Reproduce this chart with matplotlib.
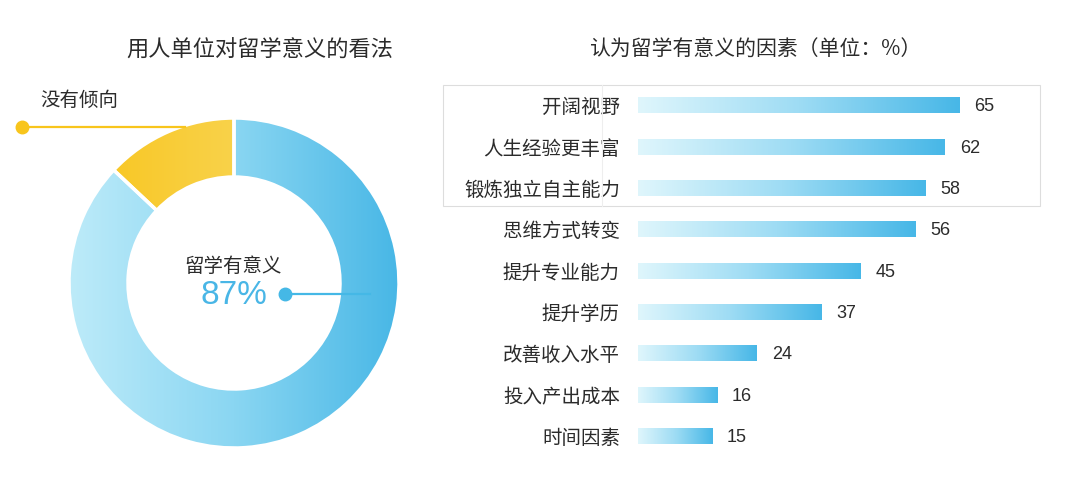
import numpy as np
import matplotlib.pyplot as plt
from matplotlib.colors import LinearSegmentedColormap
from matplotlib.patches import Rectangle

plt.rcParams['font.family'] = ['Noto Sans CJK SC', 'DejaVu Sans']

# ---------------- data ----------------
pie_labels = ['留学有意义', '没有倾向']
pie_share = [87, 13]

factors = ['开阔视野', '人生经验更丰富', '锻炼独立自主能力', '思维方式转变', '提升专业能力',
           '提升学历', '改善收入水平', '投入产出成本', '时间因素']
factor_vals = [65, 62, 58, 56, 45, 37, 24, 16, 15]

title_left = '用人单位对留学意义的看法'
title_right = '认为留学有意义的因素（单位：%）'

text_col = '#2b2b2b'
blue_dark = '#45b8e6'
yellow = '#f8c51c'
num_font = ['Liberation Sans', 'DejaVu Sans']

fig = plt.figure(figsize=(10.8, 4.88), dpi=100)
fig.patch.set_facecolor('white')

# ---------------- donut (axes in pixel units) ----------------
ax = fig.add_axes([0, 0, 440 / 1080, 1])
cx, cy, R, w = 234, 205, 165, 59
wedges, _ = ax.pie(pie_share, radius=R, center=(cx, cy), startangle=90, counterclock=False,
                   wedgeprops=dict(width=w, edgecolor='white', linewidth=2.5))

grad = np.linspace(0, 1, 256).reshape(1, -1)
cmaps = [LinearSegmentedColormap.from_list('b', ['#bdebf9', '#8ad6f2', '#48b7e6']),
         LinearSegmentedColormap.from_list('y', ['#f8c41a', '#f9d24a', '#fae07e'])]
for wdg, cm in zip(wedges, cmaps):
    im = ax.imshow(grad, extent=[cx - R, cx + R, cy - R, cy + R], cmap=cm,
                   aspect='auto', zorder=1, interpolation='bicubic')
    im.set_clip_path(wdg)
    wdg.set_facecolor('none')
    wdg.set_zorder(2)

ax.set_xlim(0, 440)
ax.set_ylim(0, 488)
ax.set_aspect('auto')
ax.axis('off')

# callouts
ax.plot([22, 185], [361, 361], color=yellow, lw=1.6, zorder=3)
ax.plot(22, 361, 'o', color=yellow, ms=9, zorder=3)
ax.text(40, 388, pie_labels[1], fontsize=14, color=text_col, ha='left', va='center', weight='medium')

ax.plot([285, 370], [194, 194], color=blue_dark, lw=1.6, zorder=3)
ax.plot(285, 194, 'o', color=blue_dark, ms=9, zorder=3)
ax.text(233, 222, pie_labels[0], fontsize=14, color=text_col, ha='center', va='center', weight='medium')
ax.text(234, 193, '%d%%' % pie_share[0], fontsize=24, color='#49b6e6', ha='center', va='center',
        family=num_font)

fig.text(260 / 1080, 1 - 50 / 488, title_left, fontsize=16, color=text_col, ha='center', va='center',
         weight='medium')
fig.text(755 / 1080, 1 - 50 / 488, title_right, fontsize=15, color=text_col, ha='center', va='center',
         weight='medium')

# ---------------- bars ----------------
px_per_unit = 4.95
bx = fig.add_axes([638 / 1080, 31.4 / 488, 442 / 1080, 372 / 488])
pos = np.arange(len(factors))
bars = bx.barh(pos, factor_vals, height=0.39, color='none')
bcm = LinearSegmentedColormap.from_list('bar', ['#dff6fc', '#9edcf4', '#47b7e7'])
for r in bars:
    x0, y0 = r.get_x(), r.get_y()
    im = bx.imshow(grad, extent=[x0, x0 + r.get_width(), y0 + r.get_height(), y0], cmap=bcm,
                   aspect='auto', zorder=1, interpolation='bicubic')
    im.set_clip_path(r)
bx.set_xlim(0, 442 / px_per_unit)
bx.set_ylim(len(factors) - 0.5, -0.5)

for p, v in zip(pos, factor_vals):
    bx.text(v + 3.0, p + 0.04, str(v), fontsize=13, color=text_col, va='center', ha='left', family=num_font)

bx.set_yticks(pos)
bx.set_yticklabels(factors, fontsize=14, color=text_col, weight='medium')
bx.tick_params(axis='y', length=0, pad=13)
bx.set_xticks([])
for s in bx.spines.values():
    s.set_visible(False)
bx.patch.set_alpha(0)

# highlight box around top three rows
fig.add_artist(Rectangle((443 / 1080, 1 - 206 / 488), 597 / 1080, 121 / 488, transform=fig.transFigure,
                         fill=False, edgecolor='#dddddd', lw=0.8))
fig.add_artist(plt.Line2D([602 / 1080, 602 / 1080], [1 - 206 / 488, 1 - 85 / 488],
                          transform=fig.transFigure, color='#eeeeee', lw=0.8))

fig.savefig('out.png', dpi=100, facecolor='white')
